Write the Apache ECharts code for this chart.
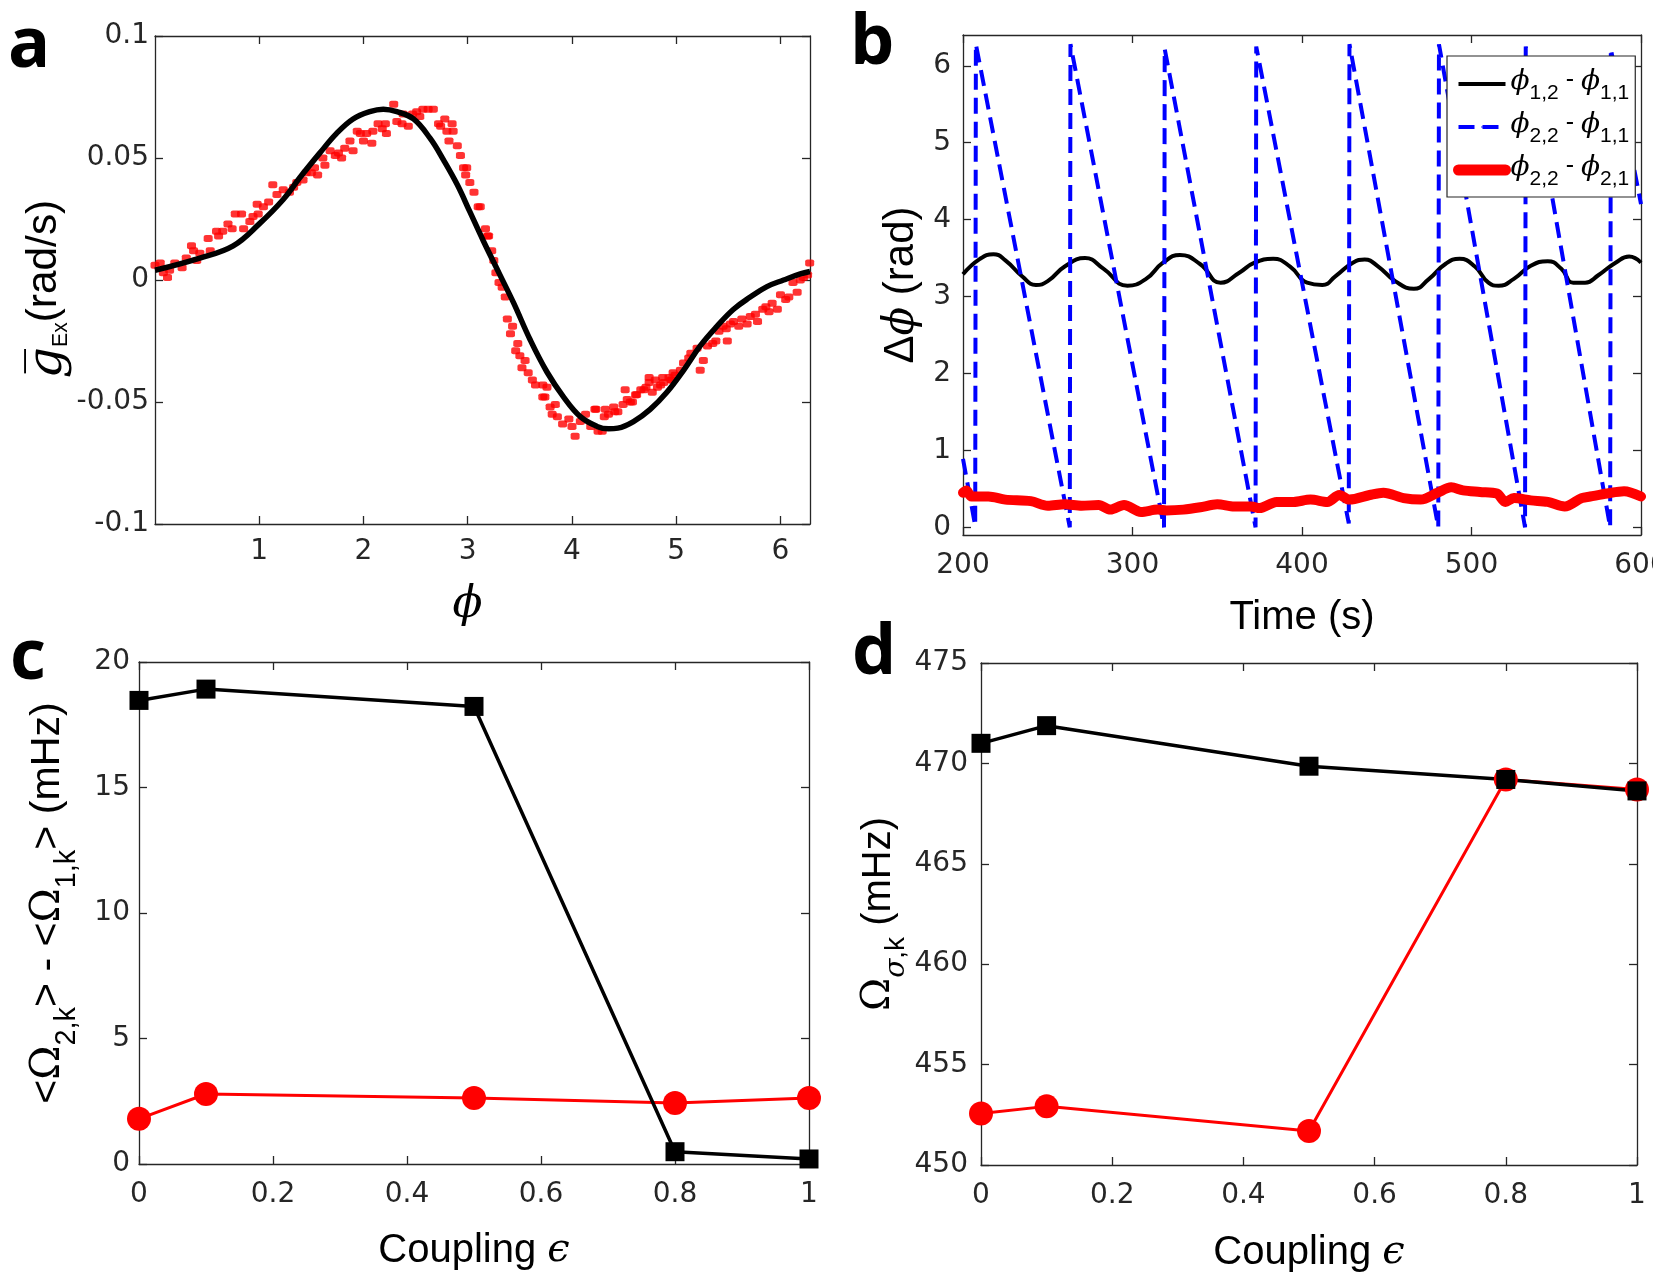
<!DOCTYPE html>
<html>
<head>
<meta charset="utf-8">
<script src="https://cdn.jsdelivr.net/npm/echarts@6/dist/echarts.min.js"></script>
<style>html,body{margin:0;background:#fff}#main{width:1653px;height:1286px}</style>
</head>
<body>
<div id="main"></div>
<script>
// panel a: measured coupling function (red dots) and fitted curve (black)
var aMeasured = [
  [0,0.006],[0.05,0.007],[0.08,0.003],[0.12,0.001],[0.14,0.004],[0.19,0.007],[0.26,0.005],[0.3,0.009],
  [0.35,0.014],[0.37,0.012],[0.4,0.008],[0.43,0.011],[0.51,0.017],[0.53,0.012],[0.59,0.020],[0.61,0.018],
  [0.65,0.020],[0.7,0.023],[0.74,0.021],[0.77,0.027],[0.83,0.027],[0.85,0.021],[0.91,0.024],[0.94,0.026],
  [0.98,0.031],[0.99,0.027],[1.04,0.030],[1.09,0.032],[1.13,0.039],[1.17,0.035],[1.23,0.037],[1.29,0.036],
  [1.33,0.038],[1.36,0.040],[1.42,0.041],[1.45,0.044],[1.5,0.044],[1.53,0.046],[1.56,0.043],
  [1.61,0.050],[1.63,0.047],[1.68,0.053],[1.73,0.051],[1.76,0.052],[1.79,0.050],[1.82,0.054],[1.87,0.057],
  [1.9,0.053],[1.94,0.061],[1.97,0.060],[2.0,0.057],[2.03,0.060],[2.08,0.056],[2.09,0.061],[2.14,0.064],
  [2.18,0.062],[2.21,0.064],[2.22,0.060],[2.29,0.072],[2.32,0.065],[2.37,0.064],[2.38,0.068],[2.43,0.063],
  [2.47,0.068],[2.51,0.069],[2.54,0.067],[2.57,0.070],[2.62,0.070],[2.67,0.070],[2.72,0.064],[2.74,0.063],
  [2.78,0.066],[2.8,0.061],[2.82,0.057],[2.85,0.064],[2.86,0.061],[2.9,0.055],[2.93,0.051],[2.96,0.046],
  [2.98,0.043],[2.99,0.046],[3.02,0.040],[3.06,0.036],[3.1,0.030],[3.12,0.030],[3.17,0.021],[3.19,0.018],
  [3.2,0.018],[3.23,0.012],[3.25,0.008],[3.27,0.003],[3.3,-0.001],[3.33,-0.003],[3.36,-0.007],[3.38,-0.016],
  [3.41,-0.022],[3.43,-0.019],[3.46,-0.029],[3.48,-0.026],[3.5,-0.031],[3.52,-0.036],[3.55,-0.033],[3.58,-0.038],
  [3.62,-0.041],[3.65,-0.043],[3.72,-0.043],[3.72,-0.048],[3.74,-0.048],[3.76,-0.044],[3.79,-0.052],[3.81,-0.055],
  [3.84,-0.051],[3.86,-0.056],[3.91,-0.059],[3.97,-0.057],[4.0,-0.060],[4.03,-0.064],[4.08,-0.058],[4.13,-0.055],
  [4.18,-0.060],[4.22,-0.053],[4.25,-0.062],[4.32,-0.053],[4.23,-0.053],[4.31,-0.056],[4.41,-0.054],[4.49,-0.051],
  [4.56,-0.050],[4.62,-0.047],[4.69,-0.045],[4.74,-0.042],[4.82,-0.044],[4.87,-0.040],[4.95,-0.041],[4.97,-0.038],
  [4.29,-0.062],[4.35,-0.055],[4.4,-0.052],[4.44,-0.054],[4.51,-0.045],[4.53,-0.049],[4.58,-0.050],[4.61,-0.047],
  [4.66,-0.045],[4.71,-0.044],[4.74,-0.040],[4.77,-0.046],[4.8,-0.041],[4.85,-0.043],[4.88,-0.042],[4.93,-0.040],
  [4.96,-0.041],[4.99,-0.039],[5.04,-0.037],[5.07,-0.034],[5.12,-0.032],[5.14,-0.030],[5.2,-0.028],[5.23,-0.037],
  [5.26,-0.033],[5.3,-0.027],[5.35,-0.026],[5.38,-0.025],[5.41,-0.021],[5.45,-0.019],[5.48,-0.020],[5.49,-0.025],
  [5.52,-0.018],[5.55,-0.017],[5.6,-0.019],[5.63,-0.016],[5.68,-0.018],[5.71,-0.015],[5.76,-0.014],[5.78,-0.017],
  [5.83,-0.012],[5.86,-0.011],[5.89,-0.013],[5.92,-0.0095],[5.97,-0.012],[6.0,-0.006],[6.05,-0.008],[6.08,-0.007],
  [6.12,-0.001],[6.16,-0.005],[6.19,0.0],[6.22,0.001],[6.26,0.002],[6.28,0.007]
];
var aFit = [
  [0,0.004],[0.43,0.009],[0.75,0.014],[1.0,0.023],[1.23,0.033],[1.39,0.042],[1.58,0.052],[1.74,0.060],
  [1.9,0.066],[2.06,0.069],[2.19,0.070],[2.32,0.069],[2.48,0.066],[2.64,0.058],[2.77,0.049],[2.9,0.039],
  [3.02,0.028],[3.15,0.016],[3.31,0.002],[3.44,-0.0094],[3.6,-0.0246],[3.76,-0.0377],[3.92,-0.048],[4.08,-0.056],
  [4.24,-0.060],[4.35,-0.061],[4.44,-0.0607],[4.59,-0.058],[4.75,-0.053],[4.91,-0.046],[5.07,-0.037],[5.23,-0.027],
  [5.39,-0.019],[5.55,-0.012],[5.71,-0.007],[5.87,-0.0027],[6.03,0.0],[6.19,0.0025],[6.2832,0.0035]
];
var phiTicks = [1, 2, 3, 4, 5, 6];

// panel b: phase differences over time
var bPhi12 = [
  [200,3.29],[210,3.49],[218,3.55],[225,3.47],[235,3.26],[243,3.15],[250,3.2],[260,3.39],[272,3.5],[283,3.36],
  [297,3.14],[308,3.23],[318,3.44],[328,3.54],[340,3.42],[352,3.18],[363,3.31],[372,3.44],[383,3.49],[393,3.39],
  [403,3.18],[412,3.15],[420,3.27],[430,3.44],[437,3.48],[445,3.39],[455,3.2],[466,3.1],[475,3.23],[485,3.43],
  [493,3.49],[502,3.39],[510,3.18],[516,3.14],[525,3.23],[535,3.4],[545,3.46],[553,3.36],[560,3.18],[567,3.18],
  [575,3.28],[585,3.44],[593,3.52],[600,3.44]
];
var bPhi22 = [
  [200,0.89],[207.2,0.02],[207.6,6.28],[263.0,0.0],[263.4,6.28],[318.6,0.0],[319.0,6.22],[372.6,0.0],
  [373.0,6.25],[427.6,0.05],[428.0,6.28],[480.4,0.0],[480.8,6.28],[531.6,0.0],[532.0,6.25],[581.8,0.0],
  [582.2,6.22],[600,4.2]
];
var bPhi2 = [
  [200,0.45],[202,0.48],[205,0.4],[215,0.4],[225,0.36],[240,0.34],[250,0.28],[260,0.3],[270,0.28],[280,0.29],
  [287,0.23],[295,0.29],[305,0.2],[315,0.23],[320,0.22],[330,0.23],[340,0.26],[350,0.3],[360,0.27],[370,0.27],
  [375,0.25],[385,0.33],[395,0.33],[405,0.36],[415,0.33],[422,0.42],[428,0.36],[440,0.42],[448,0.45],[460,0.38],
  [470,0.36],[480,0.45],[488,0.52],[495,0.48],[505,0.46],[515,0.44],[520,0.33],[525,0.38],[535,0.35],[545,0.33],
  [555,0.27],[565,0.38],[570,0.4],[580,0.44],[590,0.47],[600,0.4]
];
var bTicks = [0, 1, 2, 3, 4, 5, 6];

// panels c and d: vs coupling strength
var coupling = [0, 0.1, 0.5, 0.8, 1];
var cBlack = [18.47, 18.92, 18.23, 0.49, 0.2];
var cRed = [1.8, 2.79, 2.63, 2.43, 2.63];
var dBlack = [471.0, 471.88, 469.86, 469.2, 468.63];
var dRed = [452.57, 452.92, 451.69, 469.2, 468.7];

function pairs(xs, ys) {
  return xs.map(function (x, i) { return [x, ys[i]]; });
}

var axisColor = '#262626';
var sans = 'Liberation Sans';
var serif = 'DejaVu Serif';

// rich styles for axis titles, k scales the whole title
function titleRich(k) {
  return {
    t: {fontFamily: sans, fontSize: 40 * k, lineHeight: 46 * k, verticalAlign: 'top', color: '#000'},
    o: {fontFamily: serif, fontSize: 40 * k, lineHeight: 46 * k, verticalAlign: 'top', color: '#000'},
    p: {fontFamily: serif, fontStyle: 'italic', fontSize: 40 * k, lineHeight: 46 * k, verticalAlign: 'top', color: '#000'},
    g: {fontFamily: serif, fontStyle: 'italic', fontSize: 46 * k, lineHeight: 46 * k, verticalAlign: 'top', color: '#000'},
    s: {fontFamily: sans, fontSize: 28 * k, lineHeight: 28 * k, padding: [30 * k, 0, 0, 0], color: '#000'},
    si: {fontFamily: serif, fontStyle: 'italic', fontSize: 28 * k, lineHeight: 28 * k, padding: [30 * k, 0, 0, 0], color: '#000'},
    e: {fontFamily: sans, fontSize: 20 * k, lineHeight: 20 * k, padding: [24 * k, 0, 0, 0], color: '#000'}
  };
}

function makeAxis(grid, pos, o, mirror) {
  var ax = {
    gridIndex: grid, type: 'value', position: pos,
    min: o.min, max: o.max,
    splitLine: {show: false},
    axisLine: {show: true, onZero: false, lineStyle: {color: axisColor, width: 1.3}},
    axisTick: {show: true, inside: true, length: 8, lineStyle: {color: axisColor, width: 1.3}},
    axisLabel: {show: !mirror, color: axisColor, fontFamily: 'DejaVu Sans', fontSize: 28, margin: o.margin},
    name: mirror ? '' : o.name,
    nameLocation: 'middle', nameGap: o.nameGap, nameRotate: o.rotate,
    nameTextStyle: {rich: titleRich(o.k || 1), padding: o.pad || 0}
  };
  if (o.interval) ax.interval = o.interval;
  if (o.custom) {
    ax.axisTick.customValues = o.custom;
    ax.axisLabel.customValues = o.custom;
  }
  return ax;
}

var xDefs = [
  {min: 0, max: 2 * Math.PI, custom: phiTicks, margin: 14, name: '{p|ϕ}', nameGap: 60, k: 1.1, pad: [0, 30, 0, 0]},
  {min: 200, max: 600, interval: 100, margin: 17, name: '{t|Time (s)}', nameGap: 63},
  {min: 0, max: 1, interval: 0.2, margin: 17, name: '{t|Coupling }{p|ϵ}', nameGap: 67},
  {min: 0, max: 1, interval: 0.2, margin: 17, name: '{t|Coupling }{p|ϵ}', nameGap: 68}
];
var yDefs = [
  {min: -0.1, max: 0.1, interval: 0.05, margin: 6, rotate: 90, nameGap: 76, k: 1.06, pad: [0, 18, 0, 0],
   name: '{g|g\u0305}{e|Ex}{t|(rad/s)}'},
  {min: -0.1, max: 6.4, custom: bTicks, margin: 12, rotate: 90, nameGap: 34, k: 1.05,
   name: '{t|Δ}{p|ϕ}{t| (rad)}'},
  {min: 0, max: 20, interval: 5, margin: 9, rotate: 90, nameGap: 64, k: 1.03, pad: [0, 0, 0, 20],
   name: '{t|<}{o|Ω}{s|2,k}{t|> - <}{o|Ω}{s|1,k}{t|> (mHz)}'},
  {min: 450, max: 475, interval: 5, margin: 13, rotate: 90, nameGap: 74,
   name: '{o|Ω}{si|σ}{s|,k}{t| (mHz)}'}
];

var xAxes = [], yAxes = [];
for (var i = 0; i < 4; i++) {
  xAxes.push(makeAxis(i, 'bottom', xDefs[i], false));
  yAxes.push(makeAxis(i, 'left', yDefs[i], false));
}
for (var j = 0; j < 4; j++) {
  xAxes.push(makeAxis(j, 'top', xDefs[j], true));
  yAxes.push(makeAxis(j, 'right', yDefs[j], true));
}

var letterStyle = {fontFamily: 'Open Sans', fontWeight: 'bold', fontSize: 70, color: '#000'};

var myChart = echarts.init(document.getElementById('main'), null, {renderer: 'canvas'});
var option = {
  animation: false,
  backgroundColor: '#fff',
  title: [
    {text: 'a', left: 8, top: 12, padding: 0, textStyle: letterStyle},
    {text: 'b', left: 850, top: 9, padding: 0, textStyle: letterStyle},
    {text: 'c', left: 10, top: 624, padding: 0, textStyle: letterStyle},
    {text: 'd', left: 852, top: 619, padding: 0, textStyle: letterStyle}
  ],
  grid: [
    {left: 155, top: 36, width: 655, height: 488, outerBoundsMode: 'none'},
    {left: 963, top: 35, width: 678, height: 500, outerBoundsMode: 'none'},
    {left: 139, top: 662, width: 670, height: 502, outerBoundsMode: 'none'},
    {left: 981, top: 663, width: 656, height: 502, outerBoundsMode: 'none'}
  ],
  xAxis: xAxes,
  yAxis: yAxes,
  legend: {
    orient: 'vertical', left: 1447, top: 56,
    padding: [8, 6, 7, 6], itemGap: 3, itemWidth: 47, itemHeight: 2,
    borderColor: axisColor, borderWidth: 1.2, backgroundColor: '#fff',
    data: [
      {name: 'ϕ1,2 - ϕ1,1', lineStyle: {width: 4}},
      {name: 'ϕ2,2 - ϕ1,1', lineStyle: {width: 4}},
      {name: 'ϕ2,2 - ϕ2,1', lineStyle: {width: 11}}
    ],
    formatter: function (name) {
      return name.replace(/ϕ(\d,\d)/g, '{p|ϕ}{s|$1}').replace(' - ', '{m| - }');
    },
    textStyle: {
      rich: {
        p: {fontFamily: serif, fontStyle: 'italic', fontSize: 28, lineHeight: 32, verticalAlign: 'top', color: '#000'},
        s: {fontFamily: sans, fontSize: 21, lineHeight: 21, padding: [19, 0, 0, 0], color: '#000'},
        m: {fontFamily: sans, fontSize: 25, lineHeight: 32, verticalAlign: 'top', color: '#000'}
      }
    }
  },
  series: [
    {
      type: 'scatter', xAxisIndex: 0, yAxisIndex: 0, data: aMeasured,
      symbol: 'roundRect', symbolSize: [9, 7], itemStyle: {color: '#ff0000'}, z: 2
    },
    {
      type: 'line', xAxisIndex: 0, yAxisIndex: 0, data: aFit, smooth: 0.4,
      symbol: 'none', lineStyle: {color: '#000', width: 5.5}, z: 3
    },
    {
      name: 'ϕ1,2 - ϕ1,1', type: 'line', xAxisIndex: 1, yAxisIndex: 1, data: bPhi12, smooth: 0.5,
      symbol: 'none', lineStyle: {color: '#000', width: 4}, itemStyle: {color: '#000'}
    },
    {
      name: 'ϕ2,2 - ϕ1,1', type: 'line', xAxisIndex: 1, yAxisIndex: 1, data: bPhi22,
      symbol: 'none', lineStyle: {color: '#0000ff', width: 4, type: [16, 8]}, itemStyle: {color: '#0000ff'}
    },
    {
      name: 'ϕ2,2 - ϕ2,1', type: 'line', xAxisIndex: 1, yAxisIndex: 1, data: bPhi2, smooth: 0.3,
      symbol: 'none', lineStyle: {color: '#ff0000', width: 10, cap: 'round', join: 'round'}, itemStyle: {color: '#ff0000'}
    },
    {
      type: 'line', xAxisIndex: 2, yAxisIndex: 2, data: pairs(coupling, cRed), clip: false,
      symbol: 'circle', symbolSize: 24, lineStyle: {color: '#ff0000', width: 3}, itemStyle: {color: '#ff0000'}
    },
    {
      type: 'line', xAxisIndex: 2, yAxisIndex: 2, data: pairs(coupling, cBlack), clip: false,
      symbol: 'rect', symbolSize: 19, lineStyle: {color: '#000', width: 3.5}, itemStyle: {color: '#000'}
    },
    {
      type: 'line', xAxisIndex: 3, yAxisIndex: 3, data: pairs(coupling, dRed), clip: false,
      symbol: 'circle', symbolSize: 24, lineStyle: {color: '#ff0000', width: 3}, itemStyle: {color: '#ff0000'}
    },
    {
      type: 'line', xAxisIndex: 3, yAxisIndex: 3, data: pairs(coupling, dBlack), clip: false,
      symbol: 'rect', symbolSize: 19, lineStyle: {color: '#000', width: 3.5}, itemStyle: {color: '#000'}
    }
  ]
};
myChart.setOption(option);
</script>
</body>
</html>
